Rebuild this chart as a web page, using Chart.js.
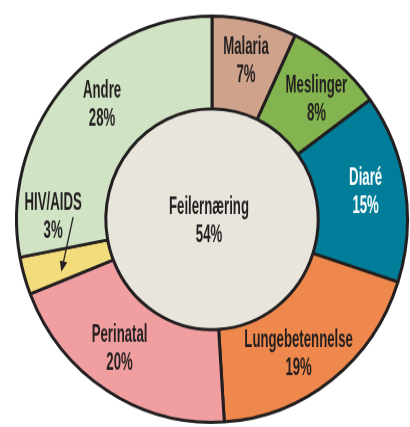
<!DOCTYPE html>
<html>
<head>
<meta charset="utf-8">
<script src="https://cdn.jsdelivr.net/npm/chart.js@4/dist/chart.umd.min.js"></script>
<style>
  html, body { margin: 0; padding: 0; background: #fff; }
  #wrap { position: relative; width: 410px; height: 427px; overflow: hidden; }
  /* the original donut is a little taller than wide */
  #chart { position: absolute; left: 0; top: 0; transform: scaleY(1.039); transform-origin: 0 0; }
</style>
</head>
<body>
<div id="wrap"><canvas id="chart" width="410" height="411"></canvas></div>
<script>
// data
const categories = ['Malaria', 'Meslinger', 'Diaré', 'Lungebetennelse', 'Perinatal', 'HIV/AIDS', 'Andre'];
const shares = [7, 8, 15, 19, 20, 3, 28];
const centerCategory = 'Feilernæring';
const centerShare = [54];

// styles
const sliceColors = ['#cfa38b', '#84b44f', '#007e99', '#ef884c', '#f09ea0', '#f3dc7c', '#d0e3c4'];
const textColors = ['#231f20', '#231f20', '#ffffff', '#231f20', '#231f20', '#231f20', '#231f20'];
const labelShift = [0, 2.5, -0.5, 4, 4, 17, 5.5]; // degrees, label nudge along the ring
const lineColor = '#231f20';
const fontFamily = '"Liberation Sans", Arial, sans-serif';
const fontSize = 24;
const squeeze = 0.55;

function drawLines(ctx, lines, x, y, color) {
    ctx.save();
    ctx.fillStyle = color;
    ctx.font = 'bold ' + fontSize + 'px ' + fontFamily;
    ctx.textAlign = 'center';
    ctx.textBaseline = 'middle';
    ctx.translate(x, y);
    ctx.scale(squeeze, 1);
    ctx.fillText(lines[0], 0, -13.5);
    ctx.fillText(lines[1], 0, 13.5);
    ctx.restore();
}

const labelPlugin = {
    id: 'sliceLabels',
    afterDatasetsDraw(chart) {
        const ctx = chart.ctx;
        const arcs = chart.getDatasetMeta(0).data;
        arcs.forEach((arc, i) => {
            const p = arc.getProps(['x', 'y', 'startAngle', 'endAngle', 'innerRadius', 'outerRadius']);
            const mid = (p.startAngle + p.endAngle) / 2;
            const a = mid + labelShift[i] * Math.PI / 180;
            const r = p.innerRadius + (p.outerRadius - p.innerRadius) * (i === 5 ? 0.59 : 0.555);
            const lx = p.x + r * Math.cos(a);
            const ly = p.y + r * Math.sin(a);
            drawLines(ctx, [categories[i], shares[i] + '%'], lx, ly, textColors[i]);

            if (i === 5) {
                // arrow from the HIV/AIDS label into its thin slice
                const ta = mid - 0.04;
                const tr = p.innerRadius + (p.outerRadius - p.innerRadius) * 0.59;
                const tx = p.x + tr * Math.cos(ta);
                const ty = p.y + tr * Math.sin(ta);
                const sx = lx + 20, sy = ly;
                const ang = Math.atan2(ty - sy, tx - sx);
                ctx.save();
                ctx.strokeStyle = lineColor;
                ctx.fillStyle = lineColor;
                ctx.lineWidth = 1.3;
                ctx.beginPath();
                ctx.moveTo(sx, sy);
                ctx.lineTo(tx - 7 * Math.cos(ang), ty - 7 * Math.sin(ang));
                ctx.stroke();
                ctx.beginPath();
                ctx.moveTo(tx, ty);
                ctx.lineTo(tx - 10 * Math.cos(ang) + 3.8 * Math.sin(ang), ty - 10 * Math.sin(ang) - 3.8 * Math.cos(ang));
                ctx.lineTo(tx - 10 * Math.cos(ang) - 3.8 * Math.sin(ang), ty - 10 * Math.sin(ang) + 3.8 * Math.cos(ang));
                ctx.closePath();
                ctx.fill();
                ctx.restore();
            }
        });
        const c = chart.getDatasetMeta(1).data[0];
        drawLines(ctx, [centerCategory, centerShare[0] + '%'], c.x - 3, c.y + 2, '#231f20');
    }
};

new Chart(document.getElementById('chart'), {
    type: 'pie',
    data: {
        labels: categories,
        datasets: [{
            data: shares,
            backgroundColor: sliceColors,
            borderColor: lineColor,
            borderWidth: 3,
            weight: 90
        }, {
            // the centre disc; its edge is drawn by the ring's inner border
            data: centerShare,
            backgroundColor: '#e8e5dc',
            borderWidth: 0,
            weight: 107
        }]
    },
    options: {
        responsive: false,
        animation: false,
        layout: { padding: { left: 15, right: 1, top: 14, bottom: 3 } },
        plugins: {
            legend: { display: false },
            tooltip: { enabled: false }
        }
    },
    plugins: [labelPlugin]
});
</script>
</body>
</html>
